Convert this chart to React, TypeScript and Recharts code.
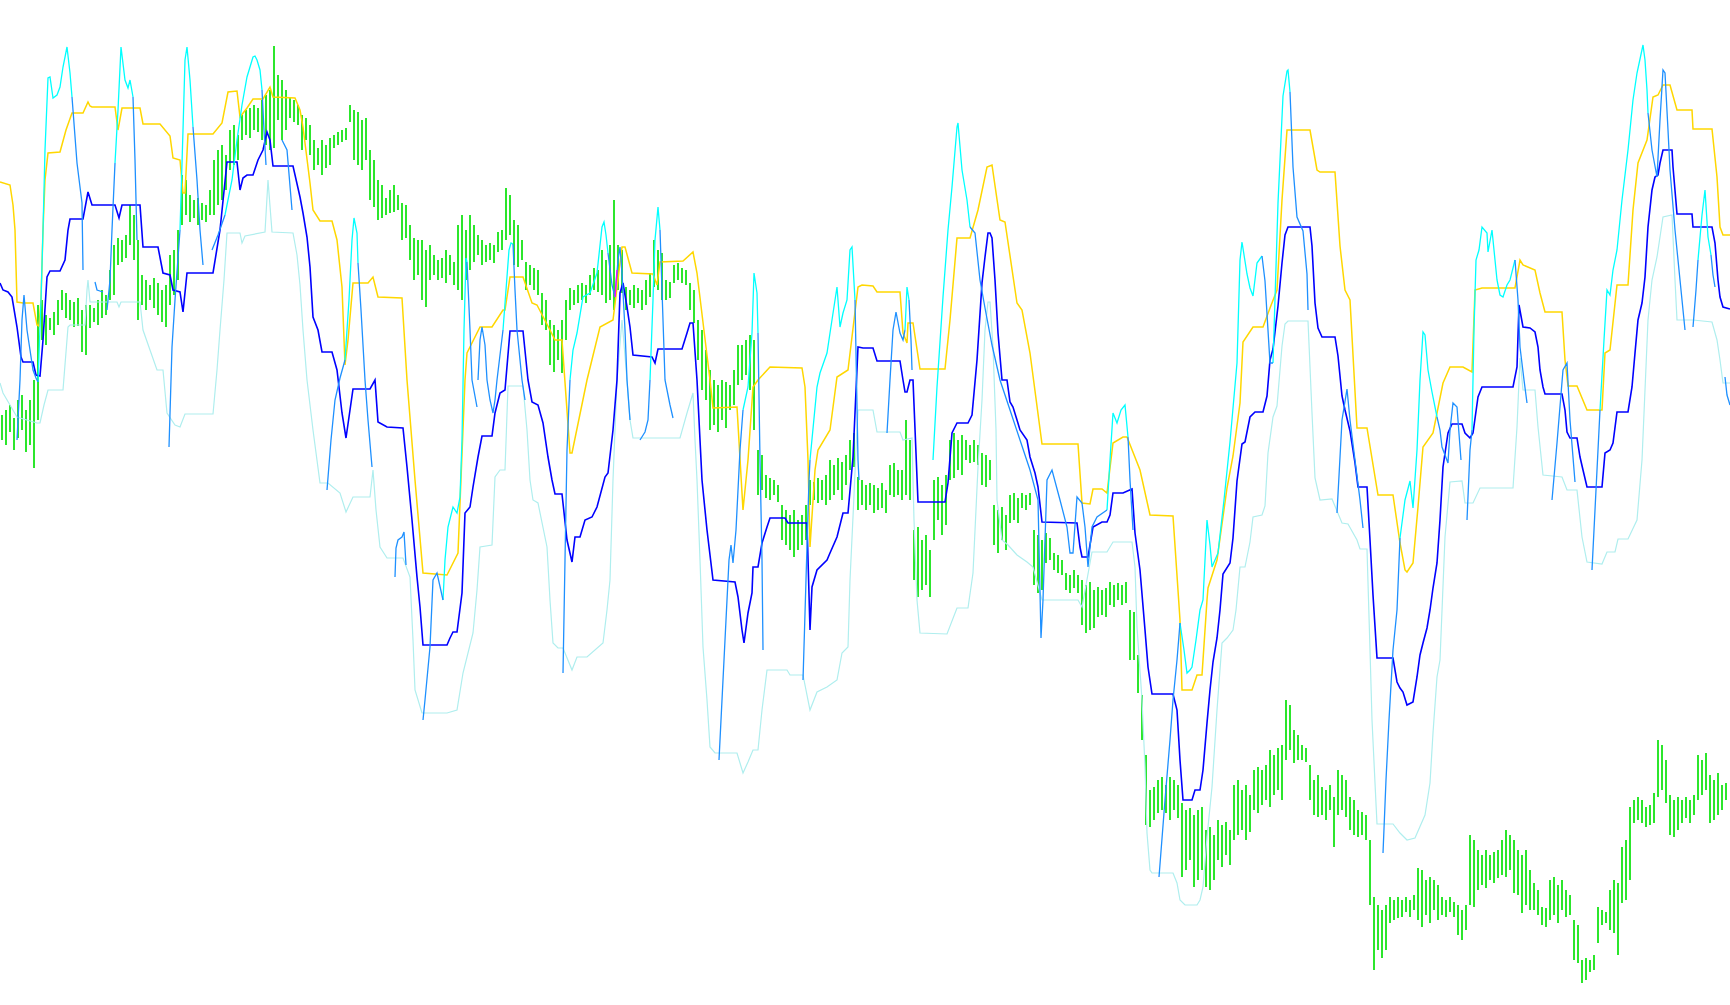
import React from 'react';
import { ComposedChart, Bar, Line, XAxis, YAxis } from 'recharts';

type P = [number, number];

// Price bars (one every 4 time units starting at t=2). Values are on an inverted price scale (0 = top).
const barHigh: number[] = [
  415,410,405,418,400,395,410,400,380,305,
  300,315,318,312,300,
  290,293,300,302,298,310,305,305,308,300,
  290,295,270,245,238,240,235,205,215,240,
  275,280,285,278,283,290,285,255,250,230,
  175,180,195,200,198,203,205,190,160,150,
  145,155,130,125,135,115,110,108,105,108,
  100,95,90,46,75,80,90,97,100,105,
  115,118,125,140,148,140,145,138,135,132,
  130,128,105,110,112,120,118,150,160,180,
  185,198,190,185,195,203,205,225,238,240,
  240,250,245,255,260,258,250,255,262,225,
  215,230,215,225,235,240,245,243,245,232,
  230,188,195,220,225,240,262,265,268,270,
  293,300,320,325,330,320,300,288,290,285,
  283,285,275,268,270,250,260,245,200,245,
  250,287,290,285,288,290,280,273,240,250,
  253,280,282,265,263,268,270,283,290,320,
  330,350,370,380,385,380,382,385,370,345,
  345,340,335,340,450,455,475,478,480,485,
  505,510,515,510,520,515,505,480,482,478,
  480,475,460,465,458,462,455,440,433,477,
  480,485,483,485,488,483,490,465,463,470,
  470,420,440,530,527,540,535,550,480,477,
  485,475,440,433,440,435,440,445,440,445,
  453,455,460,505,510,507,515,495,493,498,
  493,495,493,530,535,540,533,538,553,555,
  560,573,575,570,575,580,585,582,590,587,
  590,588,582,585,583,585,582,610,612,655,
  695,755,790,787,780,777,785,777,780,785,
  803,810,808,815,810,807,830,827,835,820,
  825,822,830,785,780,790,785,795,770,767,
  770,765,750,755,748,745,700,705,730,735,
  745,748,765,780,775,787,790,785,797,770,
  775,780,797,800,810,812,815,840,897,905,
  910,905,897,900,897,900,897,900,895,868,
  870,880,877,880,885,897,900,897,902,905,
  910,905,835,840,850,855,850,855,852,850,
  840,830,835,840,850,855,850,870,883,890,
  907,908,880,877,885,880,890,895,920,925,
  960,958,960,955,907,910,912,890,880,883,
  847,840,807,800,797,800,807,805,793,740,
  745,760,795,800,797,800,797,800,795,755,
  760,753,775,780,773,785,783
];

const barLow: number[] = [
  440,445,432,450,438,430,452,445,468,420,
  340,345,330,335,325,
  310,318,320,327,326,352,355,328,322,325,
  318,315,300,295,265,262,258,245,260,320,
  305,310,300,308,315,322,327,305,295,280,
  225,215,222,218,225,220,222,215,215,205,
  200,190,170,165,160,140,135,138,130,132,
  140,145,150,148,120,140,130,118,122,125,
  150,140,155,170,165,175,168,165,148,145,
  142,140,122,160,165,170,160,200,207,220,
  218,215,213,212,210,240,238,260,280,275,
  300,307,280,275,280,278,283,275,285,290,
  300,280,270,262,255,265,262,260,263,252,
  250,240,235,265,267,260,290,285,290,295,
  325,330,365,372,360,373,340,310,305,303,
  300,303,295,290,292,295,303,300,310,290,
  293,310,305,308,303,310,305,297,287,290,
  300,300,298,283,280,283,285,310,323,360,
  390,400,430,425,432,420,428,410,405,385,
  380,375,390,430,495,490,498,500,495,502,
  540,545,550,557,550,545,540,505,500,503,
  500,505,500,495,490,500,485,470,467,510,
  505,510,505,513,510,508,513,495,497,495,
  500,495,500,580,597,590,585,597,540,520,
  535,525,480,478,470,475,460,463,462,465,
  485,487,480,545,553,540,550,523,520,523,
  508,510,505,585,593,590,563,560,570,573,
  575,590,593,588,593,625,633,630,628,617,
  615,617,605,607,600,605,603,660,660,693,
  740,825,827,820,813,810,813,820,810,818,
  877,870,860,887,880,870,887,890,880,860,
  867,855,865,840,835,830,840,832,810,813,
  805,800,807,795,790,800,760,750,763,760,
  760,762,800,815,817,815,820,810,847,815,
  810,817,830,835,837,835,840,905,970,950,
  958,950,923,920,918,917,912,917,910,920,
  927,915,923,910,920,915,917,912,917,935,
  940,930,905,907,890,885,888,880,883,878,
  875,877,870,893,895,913,905,910,910,915,
  925,927,920,915,923,910,917,915,960,963,
  983,980,972,970,943,925,923,930,933,955,
  903,900,880,823,820,823,827,825,823,797,
  790,803,835,837,830,823,818,823,815,800,
  795,790,823,820,815,810,800
];

const yellowPts: P[] = [
  [0,182],[10,185],[13,205],[15,230],[17,302],[23,303],[33,303],[37,325],[39,326],[41,300],[43,230],[45,180],[48,153],[60,152],[66,130],[72,113],[83,113],[88,102],[90,106],[92,107],[115,107],[118,130],[122,108],[140,108],[143,124],[160,124],[170,136],[173,158],[180,160],[183,193],[185,193],[188,134],[213,134],[222,123],[228,92],[237,91],[240,117],[247,108],[253,99],[263,99],[270,87],[273,97],[295,98],[300,110],[303,127],[310,183],[313,210],[320,221],[332,221],[337,240],[342,287],[345,365],[348,340],[353,283],[368,283],[373,277],[378,297],[402,298],[407,380],[415,480],[423,573],[447,575],[458,553],[465,380],[467,353],[480,327],[492,327],[503,310],[505,310],[510,277],[523,277],[532,303],[537,305],[550,330],[555,340],[562,340],[570,453],[572,453],[587,380],[600,327],[613,320],[622,247],[625,247],[632,273],[653,274],[657,285],[660,262],[683,261],[693,252],[697,273],[710,380],[713,408],[737,407],[743,510],[748,460],[753,387],[758,380],[770,367],[802,368],[805,387],[808,460],[810,547],[815,470],[818,450],[830,430],[837,377],[848,370],[858,287],[862,285],[873,286],[877,292],[900,292],[903,333],[907,343],[908,323],[913,323],[920,369],[945,369],[950,320],[957,238],[970,238],[978,210],[987,167],[992,165],[1000,220],[1005,222],[1017,303],[1022,310],[1030,353],[1042,444],[1078,444],[1082,503],[1090,504],[1093,489],[1102,489],[1107,493],[1113,443],[1123,437],[1127,437],[1140,470],[1150,515],[1173,516],[1180,620],[1182,690],[1192,690],[1197,675],[1202,675],[1207,600],[1208,588],[1217,560],[1227,488],[1233,456],[1240,403],[1243,342],[1253,327],[1263,327],[1270,308],[1277,290],[1282,200],[1287,130],[1310,130],[1317,170],[1320,172],[1335,172],[1340,246],[1345,290],[1350,300],[1357,428],[1367,428],[1378,495],[1393,495],[1400,543],[1405,570],[1407,572],[1413,563],[1418,507],[1423,447],[1433,433],[1443,383],[1450,367],[1463,367],[1472,372],[1475,290],[1482,288],[1515,288],[1520,260],[1523,265],[1535,270],[1540,293],[1545,312],[1562,312],[1565,360],[1568,386],[1577,386],[1587,410],[1602,410],[1605,353],[1610,350],[1617,285],[1628,285],[1633,210],[1638,163],[1647,140],[1653,97],[1658,95],[1663,85],[1670,85],[1677,110],[1692,110],[1693,129],[1712,129],[1717,177],[1720,227],[1723,235],[1730,235]
];

const bluePts: P[] = [
  [0,283],[3,290],[8,292],[12,297],[17,327],[21,357],[23,362],[33,362],[36,375],[40,376],[43,340],[47,277],[50,271],[60,271],[65,260],[68,230],[70,219],[83,219],[88,192],[92,205],[115,205],[119,218],[122,205],[140,205],[143,247],[158,247],[163,273],[170,275],[173,290],[180,292],[183,312],[187,273],[213,273],[220,230],[227,162],[237,162],[240,190],[243,178],[247,175],[253,175],[258,160],[263,150],[267,132],[270,140],[273,166],[293,166],[300,197],[303,213],[307,237],[310,267],[313,317],[318,330],[322,352],[332,352],[337,370],[342,413],[346,438],[350,410],[353,389],[370,389],[375,380],[378,422],[387,427],[403,428],[407,467],[412,520],[417,577],[420,607],[423,645],[447,645],[450,638],[453,632],[457,632],[462,593],[465,513],[470,507],[473,487],[478,457],[482,436],[492,436],[495,413],[500,393],[505,390],[510,331],[523,331],[528,380],[532,402],[538,405],[543,423],[548,457],[552,480],[555,494],[562,494],[567,540],[572,562],[575,537],[580,537],[585,520],[592,517],[597,507],[605,477],[608,473],[613,430],[617,380],[620,293],[623,283],[627,307],[630,327],[633,355],[652,357],[655,363],[658,349],[682,349],[687,333],[690,323],[693,323],[697,380],[702,480],[707,530],[713,580],[735,582],[738,597],[742,630],[744,643],[748,613],[752,593],[753,567],[758,567],[762,543],[767,527],[770,518],[785,518],[788,523],[807,523],[810,630],[812,587],[817,570],[827,560],[830,553],[837,537],[843,513],[848,513],[853,457],[858,347],[863,348],[873,348],[877,361],[900,361],[903,380],[905,392],[907,392],[910,380],[913,380],[918,502],[945,502],[948,483],[952,433],[957,423],[968,423],[972,415],[977,360],[982,283],[985,257],[988,233],[990,233],[992,238],[995,280],[998,333],[1002,380],[1007,380],[1010,402],[1013,407],[1017,420],[1020,430],[1027,440],[1030,457],[1035,473],[1038,487],[1042,522],[1077,523],[1080,547],[1082,557],[1088,557],[1093,527],[1102,522],[1107,522],[1110,515],[1113,493],[1123,493],[1132,489],[1135,533],[1140,570],[1145,630],[1148,667],[1152,694],[1173,694],[1177,710],[1180,760],[1183,800],[1192,800],[1195,790],[1200,790],[1203,770],[1207,723],[1210,690],[1213,662],[1217,638],[1220,610],[1223,574],[1230,563],[1233,538],[1237,481],[1242,444],[1245,442],[1250,417],[1255,412],[1263,412],[1267,396],[1270,360],[1273,349],[1278,306],[1282,263],[1285,235],[1288,227],[1310,227],[1312,246],[1315,303],[1318,328],[1322,337],[1335,337],[1338,356],[1342,396],[1345,410],[1350,431],[1355,463],[1358,487],[1367,487],[1370,540],[1373,595],[1377,658],[1393,658],[1397,682],[1400,688],[1403,692],[1407,705],[1413,702],[1417,677],[1420,655],[1423,643],[1427,628],[1430,610],[1433,588],[1437,563],[1440,520],[1443,467],[1448,433],[1452,424],[1462,424],[1465,433],[1470,438],[1473,433],[1478,397],[1482,387],[1513,387],[1517,367],[1519,305],[1523,327],[1530,328],[1535,332],[1538,347],[1540,370],[1543,387],[1545,394],[1562,394],[1565,410],[1567,432],[1570,438],[1577,438],[1580,457],[1583,470],[1587,487],[1602,487],[1605,453],[1610,450],[1613,443],[1617,412],[1628,412],[1632,387],[1635,353],[1638,320],[1642,303],[1645,277],[1648,227],[1652,190],[1655,177],[1658,175],[1660,163],[1663,150],[1672,150],[1673,167],[1677,214],[1692,214],[1693,227],[1712,227],[1715,243],[1718,280],[1720,297],[1723,307],[1730,309]
];

const palePts: P[] = [
  [0,383],[3,393],[10,405],[17,417],[20,418],[37,423],[40,423],[44,405],[48,390],[63,390],[68,327],[70,325],[85,325],[87,290],[88,280],[90,302],[117,302],[119,307],[121,302],[140,302],[143,330],[150,350],[157,370],[163,370],[167,413],[175,425],[180,427],[185,414],[213,414],[217,370],[220,330],[224,280],[227,233],[240,233],[242,243],[245,236],[265,232],[268,180],[272,232],[293,233],[297,255],[300,285],[303,330],[307,380],[313,430],[320,483],[328,483],[340,493],[346,512],[353,497],[370,497],[373,470],[376,510],[380,547],[387,558],[403,558],[410,577],[413,640],[415,690],[422,713],[447,713],[457,710],[463,673],[473,633],[477,590],[480,547],[492,545],[495,477],[500,470],[505,470],[508,386],[523,386],[527,430],[530,480],[533,500],[538,503],[547,547],[550,600],[553,643],[558,648],[563,648],[572,670],[577,657],[587,657],[603,643],[607,610],[610,580],[613,480],[617,380],[622,320],[627,380],[630,420],[633,438],[680,438],[687,413],[693,393],[695,440],[697,480],[700,560],[703,647],[707,700],[710,747],[715,753],[737,753],[743,773],[748,762],[753,750],[758,750],[762,710],[767,670],[787,670],[790,675],[803,675],[810,710],[817,692],[827,687],[837,680],[842,653],[848,647],[850,580],[853,517],[856,450],[858,410],[873,410],[877,432],[900,432],[903,440],[912,438],[914,520],[917,600],[920,633],[947,634],[957,608],[968,608],[973,573],[978,467],[982,400],[985,330],[988,302],[990,302],[993,347],[996,430],[997,500],[1002,540],[1008,545],[1017,555],[1027,562],[1033,567],[1042,600],[1078,600],[1082,607],[1092,552],[1107,552],[1113,542],[1132,542],[1135,567],[1137,627],[1142,700],[1145,767],[1147,833],[1150,870],[1152,873],[1173,873],[1177,883],[1180,900],[1185,905],[1197,905],[1200,900],[1203,887],[1207,837],[1212,787],[1217,710],[1222,643],[1227,638],[1233,630],[1236,610],[1240,567],[1245,567],[1250,542],[1253,517],[1262,515],[1265,506],[1268,453],[1273,417],[1277,406],[1282,346],[1285,324],[1288,321],[1308,321],[1312,413],[1315,478],[1320,500],[1332,499],[1342,523],[1348,524],[1357,540],[1360,549],[1367,549],[1370,650],[1372,720],[1375,783],[1377,824],[1393,824],[1400,833],[1407,840],[1415,838],[1425,815],[1430,783],[1433,733],[1437,677],[1440,660],[1445,537],[1450,482],[1462,481],[1465,503],[1473,503],[1480,488],[1513,488],[1517,427],[1520,358],[1523,390],[1535,390],[1538,427],[1543,475],[1562,477],[1567,490],[1577,490],[1582,537],[1587,562],[1602,564],[1607,552],[1615,552],[1618,539],[1628,539],[1637,520],[1642,460],[1648,320],[1652,280],[1657,257],[1663,217],[1672,215],[1675,280],[1677,320],[1693,320],[1712,322],[1717,340],[1720,360],[1723,383],[1730,383]
];

const cyanSegs: P[][] = [
  [[38,382],[41,300],[43,230],[45,150],[48,78],[50,77],[53,98],[57,95],[60,87],[63,67],[67,47],[70,73],[72,97]],
  [[115,163],[118,110],[121,47],[125,80],[128,88],[130,80],[133,97]],
  [[180,230],[183,130],[185,60],[187,47],[190,80],[193,127]],
  [[225,215],[232,180],[237,140],[242,105],[247,77],[253,57],[255,56],[257,60],[260,70],[262,90]],
  [[345,360],[349,300],[352,240],[354,218],[357,233],[358,263]],
  [[443,600],[445,560],[448,527],[453,507],[457,513],[460,497],[462,440],[464,330],[466,258],[467,262]],
  [[503,330],[506,290],[509,250],[511,243],[513,244]],
  [[570,380],[573,350],[577,333],[583,297],[590,293],[597,273],[602,227],[604,222],[606,235],[608,253]],
  [[650,380],[653,300],[655,240],[658,207],[660,230]],
  [[743,410],[748,387],[752,333],[754,273],[757,293],[758,333]],
  [[810,460],[817,387],[820,373],[827,353],[830,333],[837,287],[840,327],[843,313],[847,300],[850,250],[852,247],[855,300]],
  [[905,330],[907,287],[909,300]],
  [[933,460],[937,387],[943,297],[948,230],[952,187],[957,127],[958,123],[962,170],[967,200],[970,227]],
  [[1107,510],[1110,460],[1113,413],[1117,423],[1121,410],[1125,405],[1128,437]],
  [[1180,623],[1184,650],[1187,673],[1190,670],[1192,667],[1196,640],[1200,610],[1203,600],[1205,560],[1207,520],[1210,545],[1212,567],[1218,553],[1224,500],[1230,442],[1237,363],[1240,260],[1242,242],[1247,274],[1250,288],[1253,296],[1257,263],[1262,256]],
  [[1273,363],[1278,203],[1283,96],[1287,71],[1288,70],[1290,92]],
  [[1400,538],[1405,500],[1410,481],[1413,508],[1417,450],[1420,380],[1423,332],[1425,335],[1428,370],[1432,392],[1437,417]],
  [[1472,430],[1474,330],[1476,260],[1479,250],[1482,227],[1487,233],[1488,252],[1492,230],[1495,260],[1497,280],[1500,295],[1503,297],[1507,285],[1510,280],[1515,260]],
  [[1600,410],[1604,340],[1607,290],[1610,295],[1613,270],[1617,250],[1622,200],[1628,150],[1633,100],[1637,73],[1643,45],[1645,60],[1647,90],[1648,113]],
  [[1698,260],[1702,215],[1705,190],[1708,237],[1711,255]]
];

const dodgerSegs: P[][] = [
  [[17,440],[20,380],[22,320],[24,295],[27,330],[33,370],[36,378],[38,382]],
  [[72,97],[77,163],[82,203],[83,270]],
  [[95,282],[97,290],[103,292]],
  [[107,310],[110,280],[112,230],[115,163]],
  [[133,97],[135,160],[137,240]],
  [[169,447],[172,347],[175,300],[180,230]],
  [[193,127],[197,180],[200,230],[203,265]],
  [[212,250],[218,235],[225,215]],
  [[262,90],[264,130],[266,165]],
  [[282,140],[287,150],[292,210]],
  [[327,490],[331,440],[335,400],[340,378],[345,360]],
  [[358,263],[361,310],[365,380],[368,420],[372,467]],
  [[395,577],[396,548],[398,540],[402,537],[404,532],[406,565]],
  [[423,720],[425,700],[430,647],[433,580],[437,573],[443,600]],
  [[467,262],[470,330],[472,380],[477,407]],
  [[478,380],[480,340],[482,327],[485,345],[487,380],[490,400],[493,413],[495,400],[497,380],[500,355],[503,330]],
  [[513,244],[515,290],[517,330],[520,360],[522,380],[525,400]],
  [[563,673],[565,560],[567,450],[570,380]],
  [[608,253],[612,285],[615,297],[618,260],[620,247],[622,273],[625,330],[627,380],[630,420]],
  [[640,440],[645,432],[648,420],[650,380]],
  [[660,230],[665,380],[670,405],[673,418]],
  [[719,760],[722,700],[726,620],[729,560],[731,545],[733,563],[736,530],[740,450],[743,410]],
  [[758,333],[760,460],[762,560],[763,650]],
  [[803,680],[806,580],[809,480],[810,460]],
  [[855,300],[858,460],[859,480]],
  [[887,433],[890,380],[893,330],[896,312],[900,333],[903,340],[905,330]],
  [[909,300],[911,340],[912,370]],
  [[970,227],[975,233],[980,280],[985,308],[992,345],[1000,380],[1010,410],[1020,440],[1030,470],[1038,500],[1041,638],[1043,600],[1047,480],[1052,470],[1060,500],[1067,527],[1070,553],[1073,553],[1077,497],[1082,503],[1085,527],[1088,567],[1092,527],[1097,517],[1107,510]],
  [[1128,437],[1130,480],[1133,530]],
  [[1159,877],[1165,800],[1170,740],[1173,700],[1177,660],[1180,623]],
  [[1262,256],[1265,281],[1270,363],[1273,363]],
  [[1290,92],[1293,167],[1297,217],[1303,231],[1307,274],[1308,310]],
  [[1337,513],[1342,420],[1347,389],[1350,420],[1355,460],[1360,500],[1363,528]],
  [[1383,853],[1386,780],[1389,720],[1393,650],[1397,610],[1400,538]],
  [[1437,417],[1440,430],[1442,447],[1448,463],[1450,430],[1453,403],[1457,407],[1460,447],[1461,460]],
  [[1467,520],[1470,450],[1472,430]],
  [[1515,260],[1518,300],[1520,347],[1524,380],[1527,403]],
  [[1552,500],[1557,443],[1563,370],[1567,363],[1570,420],[1575,482]],
  [[1592,570],[1596,490],[1600,410]],
  [[1648,113],[1652,150],[1657,177],[1660,120],[1663,70],[1665,73],[1668,130],[1670,170],[1675,230],[1680,280],[1685,330]],
  [[1693,327],[1696,290],[1698,260]],
  [[1711,255],[1713,275],[1715,287]],
  [[1725,377],[1727,395],[1730,405]]
];

const magentaPts: P[] = [[615,297],[616,283],[617,270]];

type Row = { t: number; v: number | null };
const toRows = (pts: P[]): Row[] => pts.map(([t, v]) => ({ t, v }));
const segRows = (segs: P[][]): Row[] =>
  segs.flatMap((s, i) => {
    const rows = toRows(s);
    if (i < segs.length - 1) {
      rows.push({ t: (s[s.length - 1][0] + segs[i + 1][0][0]) / 2, v: null });
    }
    return rows;
  });

const barData = barHigh.map((h, i) => ({ t: 2 + 4 * i, hl: [barLow[i], h] }));

const W = 1730;
const H = 1005;

const lineCommon = {
  xAxisId: 'l',
  dataKey: 'v',
  type: 'linear' as const,
  dot: false,
  activeDot: false,
  isAnimationActive: false,
};

export default function App() {
  return (
    <div style={{ position: 'absolute', left: 0, top: 0, width: W, height: H, background: '#ffffff' }}>
      <ComposedChart width={W} height={H} data={barData} margin={{ top: 0, right: 0, bottom: 0, left: 0 }}>
        <XAxis xAxisId="b" type="number" dataKey="t" domain={[0, W]} hide allowDataOverflow />
        <XAxis xAxisId="l" type="number" dataKey="t" domain={[0, W]} hide allowDataOverflow />
        <YAxis type="number" domain={[0, H]} reversed hide allowDataOverflow />
        <Bar xAxisId="b" dataKey="hl" fill="#2CE62C" barSize={2} isAnimationActive={false} activeBar={false} />
        <Line {...lineCommon} data={toRows(palePts)} stroke="#AFEEEE" strokeWidth={1.2} />
        <Line {...lineCommon} data={toRows(yellowPts)} stroke="#FFD700" strokeWidth={1.5} />
        <Line {...lineCommon} data={toRows(bluePts)} stroke="#0000FF" strokeWidth={1.6} />
        <Line {...lineCommon} data={segRows(cyanSegs)} stroke="#00FFFF" strokeWidth={1.3} />
        <Line {...lineCommon} data={segRows(dodgerSegs)} stroke="#1E90FF" strokeWidth={1.3} />
        <Line {...lineCommon} data={toRows(magentaPts)} stroke="#FF00FF" strokeWidth={1.3} />
      </ComposedChart>
    </div>
  );
}
